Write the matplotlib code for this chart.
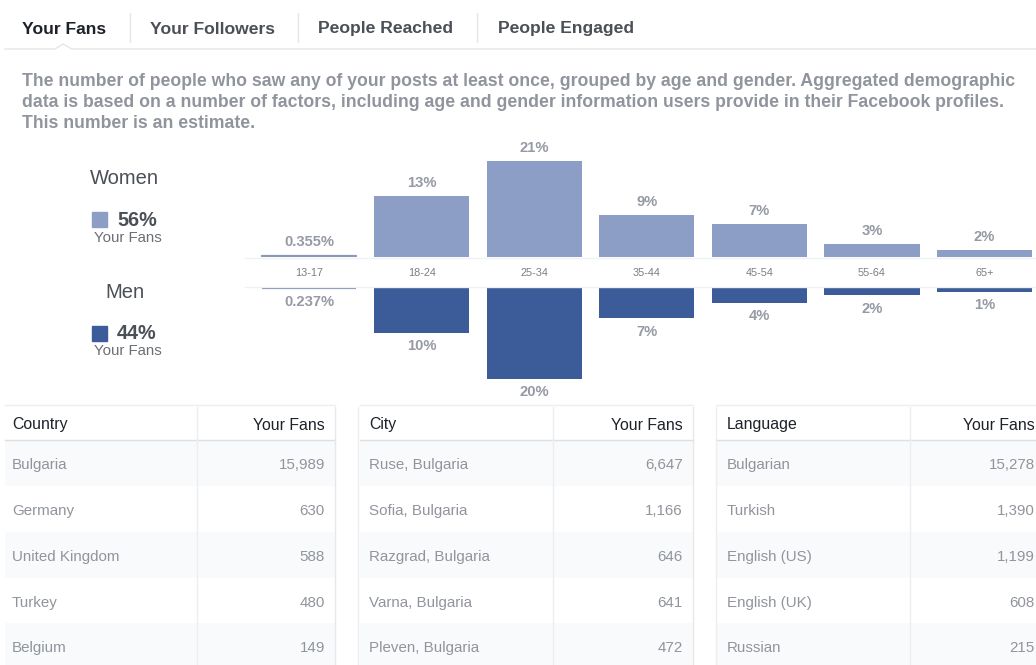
import matplotlib as mpl
import matplotlib.pyplot as plt
from matplotlib.lines import Line2D
from matplotlib.patches import Rectangle

mpl.rcParams["font.family"] = ["Liberation Sans", "DejaVu Sans"]

W, H = 1036, 665

tabs = ["Your Fans", "Your Followers", "People Reached", "People Engaged"]
description = [
    "The number of people who saw any of your posts at least once, grouped by age and gender. Aggregated demographic",
    "data is based on a number of factors, including age and gender information users provide in their Facebook profiles.",
    "This number is an estimate.",
]

age_groups = ["13-17", "18-24", "25-34", "35-44", "45-54", "55-64", "65+"]
women_pct = [0.355, 13.3, 20.9, 9.1, 7.2, 2.8, 1.5]
women_labels = ["0.355%", "13%", "21%", "9%", "7%", "3%", "2%"]
men_pct = [0.237, 9.9, 20.0, 6.8, 3.5, 1.8, 1.1]
men_labels = ["0.237%", "10%", "20%", "7%", "4%", "2%", "1%"]
women_share = "56%"
men_share = "44%"

countries = ["Bulgaria", "Germany", "United Kingdom", "Turkey", "Belgium"]
country_fans = [15989, 630, 588, 480, 149]
cities = ["Ruse, Bulgaria", "Sofia, Bulgaria", "Razgrad, Bulgaria", "Varna, Bulgaria", "Pleven, Bulgaria"]
city_fans = [6647, 1166, 646, 641, 472]
languages = ["Bulgarian", "Turkish", "English (US)", "English (UK)", "Russian"]
language_fans = [15278, 1390, 1199, 608, 215]

WOMEN_C = "#8c9dc6"
MEN_C = "#3b5c98"
GREY = "#90949c"
DARK = "#1d2129"
LINE = "#e5e6e9"


def fx(x):
    return x / W


def fy(y):
    return 1 - y / H


def txt(fig, x, y, s, **kw):
    kw.setdefault("va", "center")
    fig.text(fx(x), fy(y + 2), s, **kw)


def hline(fig, x0, x1, y, color=LINE, lw=1.0):
    fig.add_artist(Line2D([fx(x0), fx(x1)], [fy(y), fy(y)], color=color, lw=lw))


def vline(fig, x, y0, y1, color=LINE, lw=1.0):
    fig.add_artist(Line2D([fx(x), fx(x)], [fy(y0), fy(y1)], color=color, lw=lw))


def main():
    fig = plt.figure(figsize=(W / 100, H / 100), dpi=100)
    fig.patch.set_facecolor("white")

    # tabs
    tab_x = [22, 150, 318, 498]
    for i, (t, x) in enumerate(zip(tabs, tab_x)):
        txt(fig, x, 27, t, fontsize=12.6, fontweight="bold",
            color=DARK if i == 0 else "#4b4f56")
    for x in [130, 298, 477]:
        vline(fig, x, 13, 42)
    # underline with the little notch under the active tab
    ux = [5, 55, 63, 72, 1036]
    uy = [49, 49, 44, 49, 49]
    fig.add_artist(Line2D([fx(v) for v in ux], [fy(v) for v in uy], color=LINE, lw=1.0))

    for k, line in enumerate(description):
        txt(fig, 22, 80 + k * 20.5, line, fontsize=12.7, fontweight="bold", color=GREY)

    # legend
    txt(fig, 90, 177, "Women", fontsize=14.5, color="#4b4f56")
    fig.add_artist(Rectangle((fx(92), fy(227)), fx(15), 15 / H, color=WOMEN_C))
    txt(fig, 117, 218, women_share, fontsize=14.3, fontweight="bold", color="#4b4f56")
    txt(fig, 94, 236, "Your Fans", fontsize=10.8, color="#6b6f76")

    txt(fig, 105, 290, "Men", fontsize=14.5, color="#4b4f56")
    fig.add_artist(Rectangle((fx(92), fy(341)), fx(15), 15 / H, color=MEN_C))
    txt(fig, 117, 331, men_share, fontsize=14.3, fontweight="bold", color="#4b4f56")
    txt(fig, 94, 349, "Your Fans", fontsize=10.8, color="#6b6f76")

    # bar chart: women above, men below the age band
    px_per_pct = 4.6
    x_left, x_right = 245, 1036
    step = 112.6
    c0 = 309
    xlim = ((x_left - c0) / step, (x_right - c0) / step)
    top_y0, top_y1 = 120, 257
    bot_y0, bot_y1 = 287, 405

    ax_w = fig.add_axes([fx(x_left), fy(top_y1), fx(x_right - x_left), (top_y1 - top_y0) / H])
    ax_m = fig.add_axes([fx(x_left), fy(bot_y1), fx(x_right - x_left), (bot_y1 - bot_y0) / H])
    ax_w.set_ylim(0, (top_y1 - top_y0) / px_per_pct)
    ax_m.set_ylim((bot_y1 - bot_y0) / px_per_pct, 0)

    xs = range(len(age_groups))
    ax_w.bar(xs, women_pct, width=0.845, color=WOMEN_C)
    ax_m.bar(xs, men_pct, width=0.845, color=MEN_C)
    ax_w.hlines(0.2, -0.42, 0.42, color="#8a98b8", lw=1.6)
    ax_m.hlines(0.15, -0.42, 0.42, color="#7d8fb5", lw=1.6)

    for i in xs:
        ax_w.annotate(women_labels[i], (i, max(women_pct[i], 0.4)), xytext=(0, 4.5),
                      textcoords="offset points", ha="center", va="bottom",
                      fontsize=10.6, fontweight="bold", color="#959aa5")
        ax_m.annotate(men_labels[i], (i, max(men_pct[i], 0.3)), xytext=(0, -4.5),
                      textcoords="offset points", ha="center", va="top",
                      fontsize=10.6, fontweight="bold", color="#959aa5")

    for ax in (ax_w, ax_m):
        ax.set_xlim(*xlim)
        ax.axis("off")

    hline(fig, x_left, x_right, 258, color="#f0f1f3")
    hline(fig, x_left, x_right, 287, color="#f0f1f3")
    for i, age in enumerate(age_groups):
        txt(fig, c0 + i * step, 271, age, ha="center", fontsize=7.8, color="#7a7d83")

    # tables
    tables = [
        ("Country", countries, country_fans, 5, 335, 197, 12),
        ("City", cities, city_fans, 360, 693, 553, 369),
        ("Language", languages, language_fans, 716, 1050, 910, 727),
    ]
    row_y = [463, 509, 555, 601, 646]
    for head, names, vals, x0, x1, xdiv, xl in tables:
        xr = x1 - 10 if x1 < W else 1035
        for r, y in enumerate(row_y):
            if r % 2 == 0:
                fig.add_artist(Rectangle((fx(x0), fy(y + 23)), fx(x1 - x0), 46 / H,
                                         color="#f9fafb", lw=0))
        hline(fig, x0, x1, 405, color="#eceef1")
        hline(fig, x0, x1, 440, color="#dddfe2")
        vline(fig, xdiv, 407, 665, color="#eceef1")
        vline(fig, x1, 407, 665, color="#e6e8eb")
        txt(fig, xl, 423, head, fontsize=11.4, color=DARK)
        txt(fig, xr, 423, "Your Fans", ha="right", fontsize=11.4, color=DARK)
        for name, v, y in zip(names, vals, row_y):
            txt(fig, xl, y, name, fontsize=10.9, color=GREY)
            txt(fig, xr, y, f"{v:,}", ha="right", fontsize=10.9, color=GREY)
    vline(fig, 358, 407, 665, color="#eceef1")
    vline(fig, 716, 407, 665, color="#eceef1")

    fig.savefig("out.png", dpi=100)
    plt.close(fig)


if __name__ == "__main__":
    main()
